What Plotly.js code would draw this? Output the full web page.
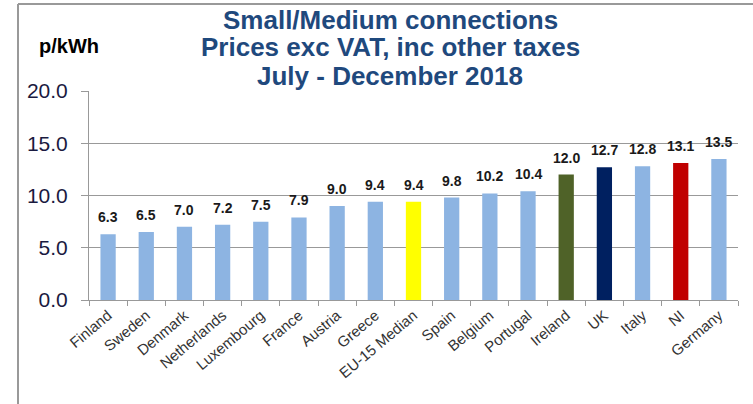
<!DOCTYPE html>
<html><head><meta charset="utf-8">
<script src="https://cdn.plot.ly/plotly-3.0.1.min.js"></script>
<style>html,body{margin:0;padding:0;background:#fff}#chart{width:753px;height:404px}</style>
</head><body><div id="chart"></div>
<script>
const countries = ["Finland","Sweden","Denmark","Netherlands","Luxembourg","France","Austria","Greece","EU-15 Median","Spain","Belgium","Portugal","Ireland","UK","Italy","NI","Germany"];
const prices = [6.3,6.5,7.0,7.2,7.5,7.9,9.0,9.4,9.4,9.8,10.2,10.4,12.0,12.7,12.8,13.1,13.5];
const barColors = ["#8DB4E2","#8DB4E2","#8DB4E2","#8DB4E2","#8DB4E2","#8DB4E2","#8DB4E2","#8DB4E2","#FFFF00","#8DB4E2","#8DB4E2","#8DB4E2","#4F6228","#002060","#8DB4E2","#C00000","#8DB4E2"];
const yTicks = [0,5,10,15,20];
const yTickText = ["0.0","5.0","10.0","15.0","20.0"];
const titleLines = ["Small/Medium connections","Prices exc VAT, inc other taxes","July - December 2018"];

const L = 89, R = 738, T = 91, B = 300;
const px = x => (x - L) / (R - L);
const py = y => (B - y) / (B - T);

const trace = {
  type: "bar", x: countries, y: prices,
  marker: {color: barColors},
  width: 0.4,
  hoverinfo: "none"
};
const titleY = [20, 47, 76];
const annotations = titleLines.map((t, i) => ({
  text: "<b>" + t + "</b>", xref: "paper", yref: "paper", x: px(390), y: py(titleY[i]),
  xanchor: "center", yanchor: "middle", showarrow: false,
  font: {family: "Liberation Sans, Arial", size: 26, color: "#1F497D"}
}));
annotations.push({text: "<b>p/kWh</b>", xref: "paper", yref: "paper", x: px(37), y: py(46),
  xanchor: "left", yanchor: "middle", showarrow: false,
  font: {family: "Liberation Sans, Arial", size: 20, color: "#000"}});
countries.forEach((c, i) => annotations.push({
  text: "<b>" + prices[i].toFixed(1) + "</b>", x: c, y: prices[i], xref: "x", yref: "y",
  xanchor: "center", yanchor: "bottom", yshift: 7, showarrow: false,
  font: {family: "Liberation Sans, Arial", size: 14, color: "#1a1a1a"}
}));

const layout = {
  width: 753, height: 404,
  margin: {l: L, r: 753 - R, t: T, b: 404 - B},
  paper_bgcolor: "#fff", plot_bgcolor: "#fff",
  showlegend: false,
  xaxis: {type: "category", tickangle: -40, tickson: "boundaries", ticks: "outside", ticklen: 5,
    tickcolor: "#999", showline: true, linecolor: "#999", linewidth: 1, showgrid: false,
    tickfont: {family: "Liberation Sans, Arial", size: 15, color: "#333"}},
  yaxis: {range: [0, 20], tickvals: yTicks, ticktext: yTickText, ticks: "outside", ticklen: 7,
    tickcolor: "#999", showline: true, linecolor: "#999", linewidth: 1, ticklabelstandoff: 9,
    showgrid: true, gridcolor: "#999", gridwidth: 1, zeroline: false,
    tickfont: {family: "Liberation Sans, Arial", size: 21, color: "#1a1a40"}},
  annotations: annotations,
  shapes: [
    {type: "line", xref: "paper", yref: "paper", x0: px(18), x1: px(753), y0: py(4), y1: py(4), line: {color: "#999", width: 2}},
    {type: "line", xref: "paper", yref: "paper", x0: px(18), x1: px(18), y0: py(4), y1: py(404), line: {color: "#999", width: 2}}
  ]
};
Plotly.newPlot("chart", [trace], layout, {staticPlot: true});
</script></body></html>
